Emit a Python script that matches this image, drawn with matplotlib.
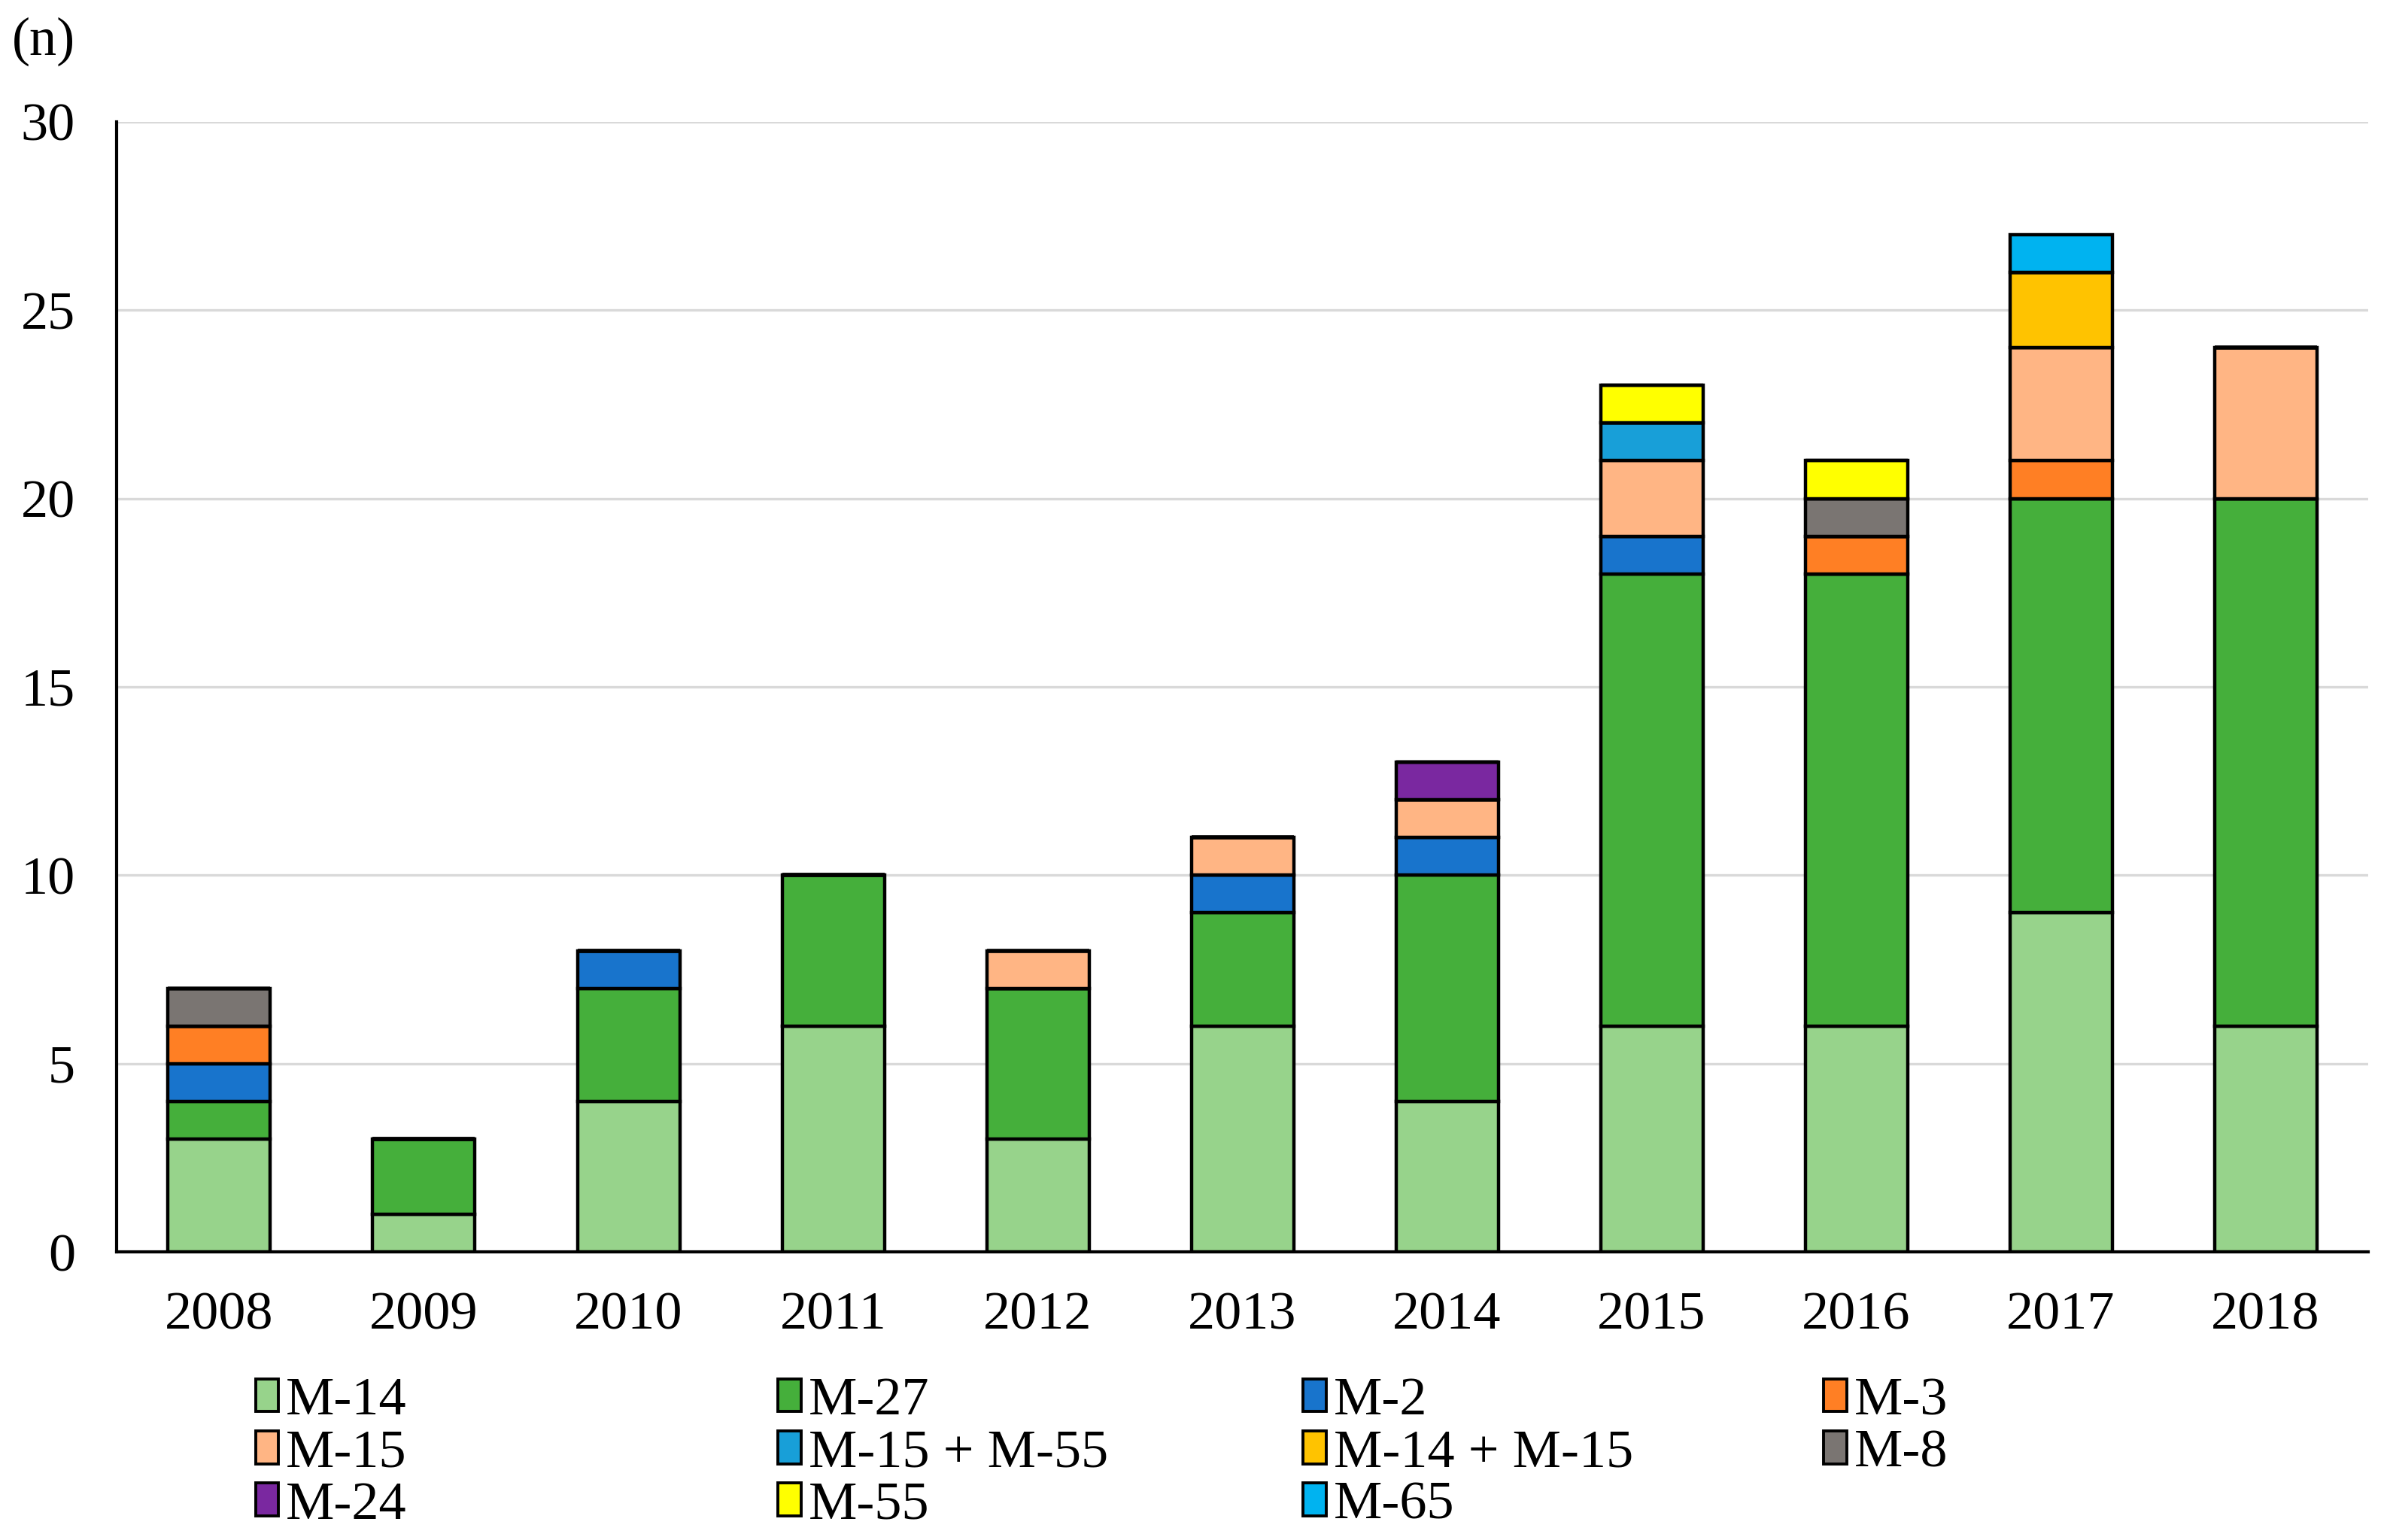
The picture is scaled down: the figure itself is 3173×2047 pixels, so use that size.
import numpy as np
import matplotlib
matplotlib.use('Agg')
import matplotlib.pyplot as plt

plt.rcParams['font.family'] = ['Liberation Serif', 'DejaVu Serif']

years = ['2008', '2009', '2010', '2011', '2012', '2013', '2014', '2015', '2016', '2017', '2018']

# counts per type, stacked bottom -> top in this order
m14      = [3, 1, 4, 6, 3, 6, 4, 6, 6, 9, 6]
m27      = [1, 2, 3, 4, 4, 3, 6, 12, 12, 11, 14]
m2       = [1, 0, 1, 0, 0, 1, 1, 1, 0, 0, 0]
m3       = [1, 0, 0, 0, 0, 0, 0, 0, 1, 1, 0]
m15      = [0, 0, 0, 0, 1, 1, 1, 2, 0, 3, 4]
m15_m55  = [0, 0, 0, 0, 0, 0, 0, 1, 0, 0, 0]
m14_m15  = [0, 0, 0, 0, 0, 0, 0, 0, 0, 2, 0]
m8       = [1, 0, 0, 0, 0, 0, 0, 0, 1, 0, 0]
m24      = [0, 0, 0, 0, 0, 0, 1, 0, 0, 0, 0]
m55      = [0, 0, 0, 0, 0, 0, 0, 1, 1, 0, 0]
m65      = [0, 0, 0, 0, 0, 0, 0, 0, 0, 1, 0]

labels = ['M-14', 'M-27', 'M-2', 'M-3', 'M-15', 'M-15 + M-55', 'M-14 + M-15',
          'M-8', 'M-24', 'M-55', 'M-65']
series = [m14, m27, m2, m3, m15, m15_m55, m14_m15, m8, m24, m55, m65]
colors = ['#97d38b', '#45af3b', '#1874cc', '#ff7f24', '#ffb584', '#189fd8',
          '#ffc300', '#7a7572', '#7a28a0', '#ffff00', '#00b3f0']

fs = 52
fig = plt.figure(figsize=(31.73, 20.47), dpi=100)
ax = fig.add_axes([0.049, 0.187, 0.943, 0.734])

x = np.arange(len(years))
bottom = np.zeros(len(years))
handles = {}
for lab, vals, col in zip(labels, series, colors):
    v = np.array(vals, dtype=float)
    bars = ax.bar(x, v, width=0.5, bottom=bottom, color=col, edgecolor='black',
                  linewidth=3.2, label=lab, zorder=3)
    handles[lab] = bars
    bottom += v

ax.set_xlim(-0.5, len(years) - 0.5)
ax.set_ylim(0, 30)
ax.set_yticks(range(0, 31, 5))
ax.set_xticks(x)
ax.set_xticklabels(years)
ax.tick_params(axis='both', length=0, labelsize=fs)
ax.tick_params(axis='y', pad=40)
ax.tick_params(axis='x', pad=38)
ax.yaxis.grid(True, color='#d9d9d9', linewidth=2.4)
ax.set_axisbelow(True)
for s in ['top', 'right']:
    ax.spines[s].set_visible(False)
for s in ['left', 'bottom']:
    ax.spines[s].set_linewidth(3.0)
    ax.spines[s].set_color('black')

fig.text(0.005, 1 - 55 / 2047, '(n)', fontsize=fs, va='center', ha='left')

# legend: four columns placed by hand, row-major like the original
cols = [['M-14', 'M-15', 'M-24'],
        ['M-27', 'M-15 + M-55', 'M-55'],
        ['M-2', 'M-14 + M-15', 'M-65'],
        ['M-3', 'M-8']]
col_x = [0.107, 0.326, 0.546, 0.764]
for cx, names in zip(col_x, cols):
    leg = fig.legend([handles[n] for n in names], names, loc='upper left',
                     bbox_to_anchor=(cx, 0.106), frameon=False, fontsize=fs,
                     handlelength=0.42, handleheight=0.55, handletextpad=0.14,
                     labelspacing=0.06, borderpad=0, borderaxespad=0)
    for p in leg.get_patches():
        p.set_linewidth(2.8)

plt.savefig('out.png', dpi=100)
